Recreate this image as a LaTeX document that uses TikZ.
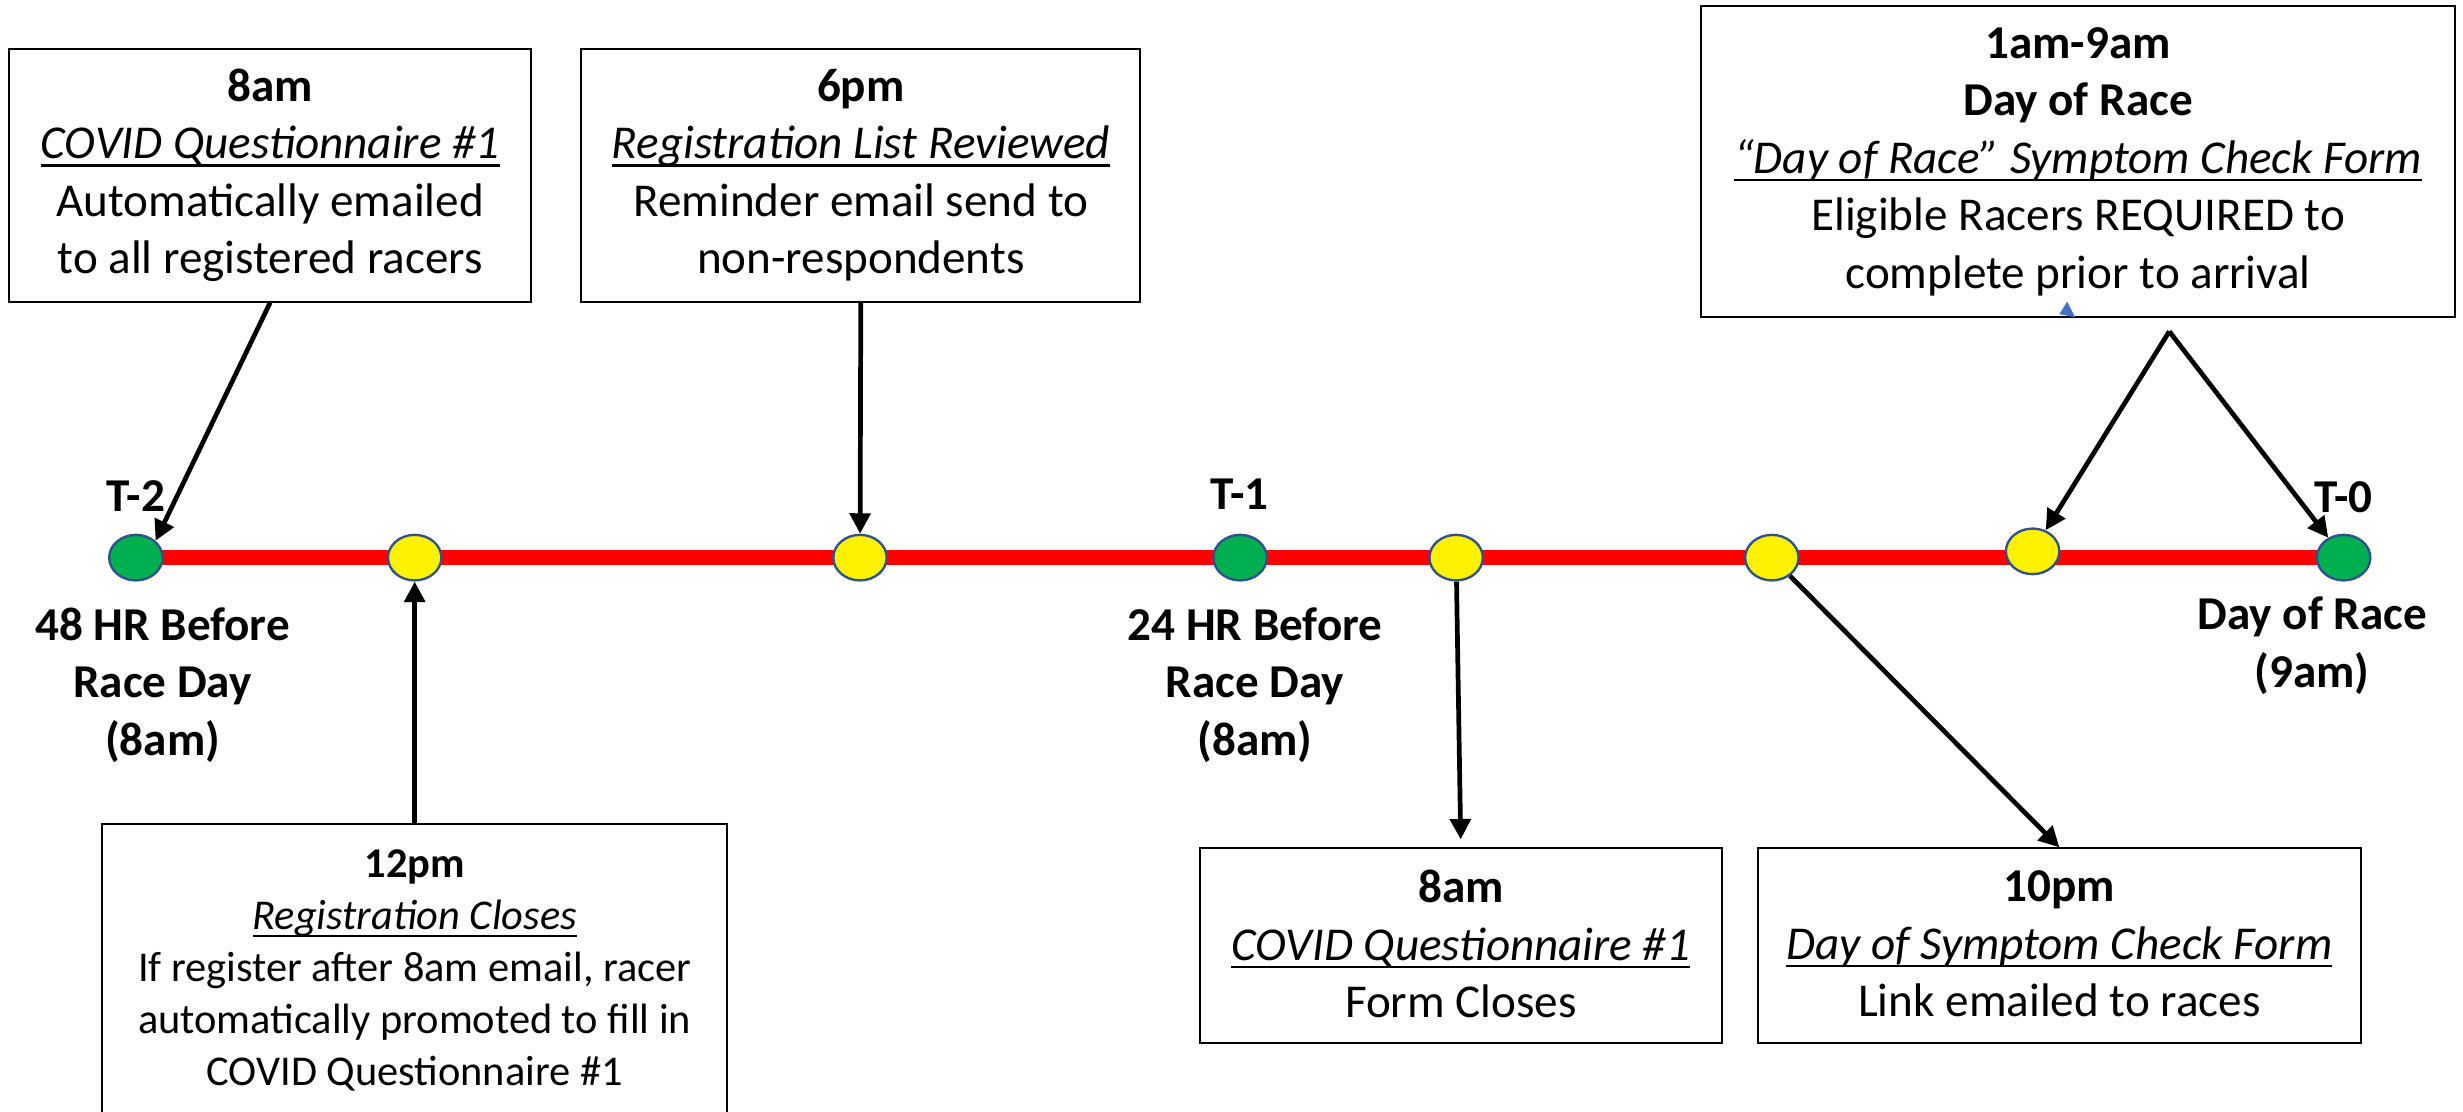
\documentclass[tikz,border=0pt]{standalone}
\usepackage{fontspec}
\setmainfont{Carlito}
\usetikzlibrary{shapes.geometric,arrows.meta,backgrounds}
\definecolor{dotblue}{RGB}{47,82,143}
\definecolor{dotgreen}{RGB}{0,176,80}
\definecolor{tri}{RGB}{68,114,196}
\newcommand\ulx[1]{\setbox0\hbox{#1}\rlap{\rule[-0.17em]{\wd0}{0.05em}}\box0}
\newcommand\stx{\rule[-0.07em]{0pt}{1.174em}}
\tikzset{
  box/.style={draw=black, line width=1.2pt, rectangle, align=center, inner sep=0pt,
    font=\fontsize{30}{36.6}\selectfont, execute at begin node=\stx, execute at end node=\stx},
  lab/.style={align=center, inner sep=0pt, font=\fontsize{30}{36.6}\selectfont\bfseries,
    execute at begin node=\stx, execute at end node=\stx},
  dot/.style={ellipse, draw=dotblue, line width=1.5pt, minimum width=34pt, minimum height=29pt, inner sep=0pt},
  gdot/.style={dot, fill=dotgreen},
  ydot/.style={dot, fill=yellow},
  arr/.style={line width=3pt, -{Triangle[length=13pt,width=13pt]}},
  tline/.style={line width=10pt, red}
}
\begin{document}
\begin{tikzpicture}[x=1pt,y=-1pt]
\useasboundingbox (0,0) rectangle (1568,707.3);
% timeline dots
\node[gdot] (t2) at (86.5,355) {};
\node[ydot] (c2) at (264,355) {};
\node[ydot] (c3) at (547.5,355) {};
\node[gdot] (t1) at (789.5,355) {};
\node[ydot] (c5) at (927,355) {};
\node[ydot] (c6) at (1128,355) {};
\node[ydot] (c7) at (1294,351) {};
\node[gdot] (t0) at (1492,355) {};
\begin{pgfonlayer}{background}
  \fill[white] (0,0) rectangle (1568,707.3);
  \draw[tline] (t2.center) -- (t0.center);
\end{pgfonlayer}
% labels
\node[lab] (lt2) at (86.5,310) {T-2};
\node[lab] (lt1) at (789,309) {T-1};
\node[lab] (lt0) at (1492,311) {T-0};
\node[lab] (l48) at (103.5,436) {48 HR Before\\Race Day\\(8am)};
\node[lab] (l24) at (799,436) {24 HR Before\\Race Day\\(8am)};
\node[lab] (ldr) at (1472,411) {Day of Race\\(9am)};
% boxes
\node[box, minimum width=332pt, minimum height=161pt] (b1) at (172,111.5)
  {\textbf{8am}\\\textit{\ulx{COVID Questionnaire \#1}}\\Automatically emailed\\to all registered racers};
\node[box, minimum width=356pt, minimum height=161pt] (b2) at (548,111.5)
  {\textbf{6pm}\\\textit{\ulx{Registration List Reviewed}}\\Reminder email send to\\non-respondents};
\node[box, minimum width=480pt, minimum height=198pt] (b3) at (1323,103)
  {\textbf{1am-9am}\\\textbf{Day of Race}\\\textit{\ulx{“Day of Race” Symptom Check Form}}\\Eligible Racers REQUIRED to\\complete prior to arrival};
\node[box, minimum width=398pt, minimum height=194pt, font=\fontsize{27}{33}\selectfont,
      execute at end node={\rule[-11pt]{0pt}{1pt}}] (b4) at (264,621.5)
  {\textbf{12pm}\\\textit{\ulx{Registration Closes}}\\If register after 8am email, racer\\automatically promoted to fill in\\COVID Questionnaire \#1};
\node[box, minimum width=332pt, minimum height=124pt] (b5) at (930,602)
  {\textbf{8am}\\\textit{\ulx{COVID Questionnaire \#1}}\\Form Closes};
\node[box, minimum width=384pt, minimum height=124pt] (b6) at (1311,602)
  {\textbf{10pm}\\\textit{\ulx{Day of Symptom Check Form}}\\Link emailed to races};
% stray mark
\fill[tri] (1311,200) -- (1316,192) -- (1321,202) -- cycle;
% connectors
\coordinate (apex) at (1381,211);
\draw[arr] (b1.south) -- (t2.north east);
\draw[arr] (b2.south) -- (c3);
\draw[arr] (b4.north) -- (c2);
\draw[arr, shorten >=5pt] (c5) -- (b5.north);
\draw[arr] (c6) -- (b6.north);
\draw[arr] (apex) -- (c7);
\draw[arr] (apex) -- (t0);
\end{tikzpicture}
\end{document}
